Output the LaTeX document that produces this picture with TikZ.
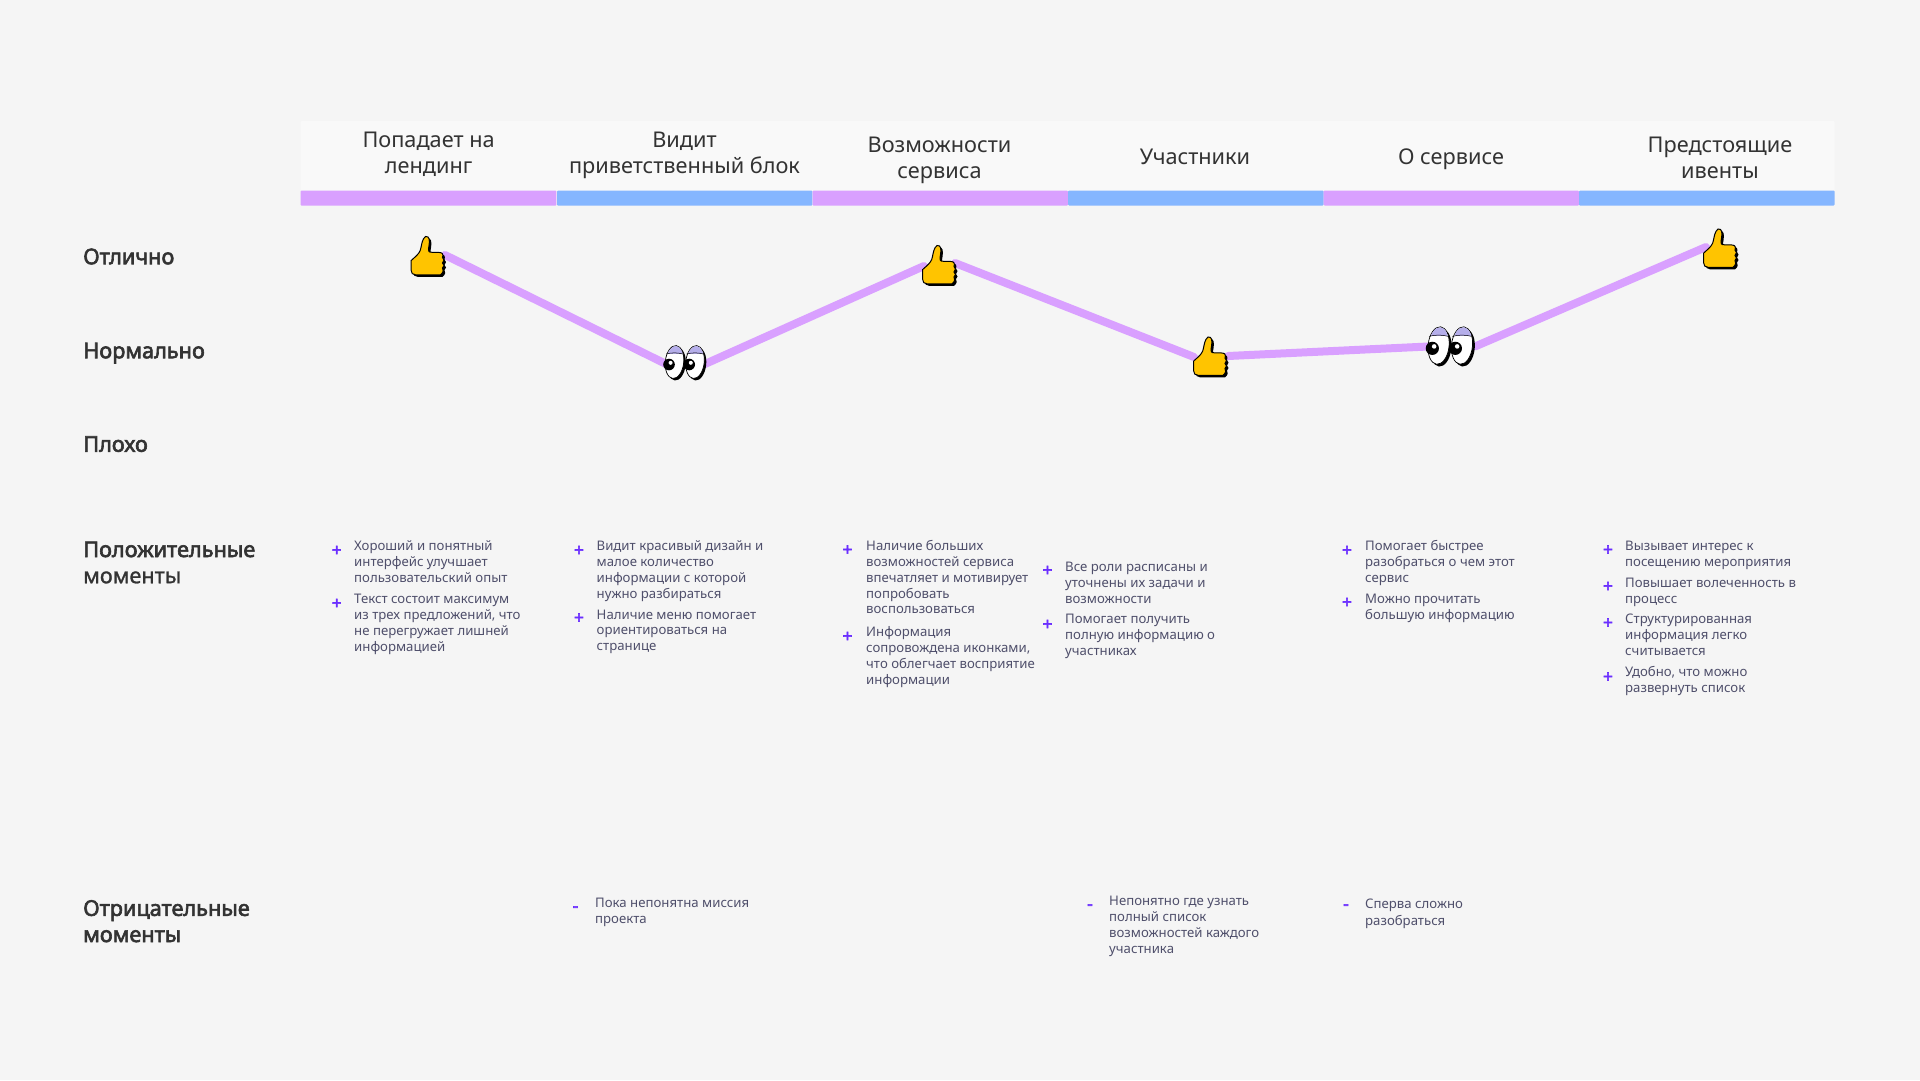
\documentclass[tikz,border=0pt]{standalone}
\usepackage{fontspec}
\setmainfont{Noto Sans}[BoldFont={Noto Sans},BoldFeatures={FakeBold=2.8}]
\newfontfamily\markfont{Noto Sans}[FakeBold=3.5]
\newfontfamily\midfont{Noto Sans}[FakeBold=1.2]
\definecolor{bgc}{HTML}{F5F5F5}
\definecolor{headc}{HTML}{F9F9F9}
\definecolor{pinkc}{HTML}{D9A0FF}
\definecolor{bluec}{HTML}{85B6FF}
\definecolor{darkc}{HTML}{333333}
\definecolor{smallc}{HTML}{4F4F6B}
\definecolor{plusc}{HTML}{6B2EFF}
\definecolor{thumbc}{HTML}{FFC400}
\definecolor{lidc}{HTML}{B5AEEA}
\tikzset{
  segp/.style={fill=pinkc,draw=none,rounded corners=1pt},
  segb/.style={fill=bluec,draw=none,rounded corners=1pt},
  headtext/.style={anchor=north,inner sep=0pt,align=center,text=darkc,yshift=10pt,font=\fontsize{21.7}{25.5}\selectfont},
  rowlabel/.style={anchor=north west,inner sep=0pt,align=left,text=darkc,yshift=11.3pt,font=\fontsize{21.7}{26.2}\selectfont},
  smalltext/.style={anchor=north west,inner sep=0pt,align=left,text=smallc,yshift=7pt,font=\fontsize{13.2}{15.9}\selectfont},
  plusmark/.style={anchor=center,inner sep=0pt,text=plusc,font=\fontsize{17}{17}\markfont},
  curve/.style={draw=pinkc,line width=8pt,line cap=round},
  thumbicon/.pic={
    \def\thumbshape{(-16.3,4) .. controls (-12,0) and (-9,-2) .. (-7.3,-6) .. controls (-6,-10) and (-6,-14) .. (-4,-17.7) .. controls (-3,-20) and (-1,-21) .. (0.5,-19.5) .. controls (2.5,-18) and (2,-13) .. (1,-7.7) .. controls (0.8,-5.5) and (1.5,-4.3) .. (2.7,-4.3) -- (12,-4) .. controls (15,-4) and (16,-2) .. (15,1) .. controls (17,2) and (17,5) .. (15,6.5) .. controls (17,8) and (17,10) .. (15,11.5) .. controls (16.5,13) and (16,16) .. (13,18.3) -- (-12,18.3) .. controls (-15,18.3) and (-16.3,16.5) .. (-16.3,14) -- cycle}
    \fill[black,shift={(2,2)}] \thumbshape;
    \draw[black,line width=1pt,fill=thumbc] \thumbshape;
  },
  eyesicon/.pic={
    \foreach \ex/\px in {-10/-15.5,10.5/4.7}{
      \begin{scope}[shift={(\ex,0)}]
        \fill[black,rotate=-6] (2.2,1.8) ellipse (9.2 and 16.5);
        \draw[black,line width=0.7pt,fill=white,rotate=-6] (0,0) ellipse (9.2 and 16.5);
        \begin{scope}
          \clip[rotate=-6] (0,0) ellipse (8.8 and 16.1);
          \fill[lidc] (-11,-18) rectangle (11,-8.5);
        \end{scope}
        \draw[black,line width=0.5pt] (-8.4,-8) .. controls (-3,-9.5) and (3,-9.5) .. (8.4,-8);
      \end{scope}
      \fill[black] (\px,2.5) circle (5.8);
      \fill[white] (\px+1.6,0.8) circle (2);
    }
  }
}
\begin{document}
\begin{tikzpicture}[x=1pt,y=-1pt]
\useasboundingbox[fill=bgc] (0,0) rectangle (1920,1080);
% header band
\fill[headc,rounded corners=1pt] (300.7,121) rectangle (1834.5,191);
\foreach \i/\a/\b/\s in {1/300.7/556.3/segp,2/557/812.3/segb,3/812.5/1067.8/segp,4/1068.2/1323.5/segb,5/1323.7/1578.8/segp,6/1579/1834.5/segb}
  \path[\s] (\a,190.5) rectangle (\b,205.7);
\node[headtext] (h1) at (428.6,139.6) {\strut Попадает на\\лендинг};
\node[headtext] (h2) at (684.5,139.6) {\strut Видит\\приветственный блок};
\node[headtext] (h3) at (939.5,144.5) {\strut Возможности\\сервиса};
\node[headtext] (h4) at (1195,156.7) {\strut Участники};
\node[headtext] (h5) at (1451,156.7) {\strut О сервисе};
\node[headtext] (h6) at (1720,144.5) {\strut Предстоящие\\ивенты};
% row labels
\node[rowlabel] (r1) at (83,257) {\strut\textbf{Отлично}};
\node[rowlabel] (r2) at (83,351) {\strut\textbf{Нормально}};
\node[rowlabel] (r3) at (83,444.5) {\strut\textbf{Плохо}};
\node[rowlabel] (r4) at (83,549.8) {\strut\textbf{Положительные}\\{\midfont моменты}};
\node[rowlabel] (r5) at (83,908.6) {\strut\textbf{Отрицательные}\\\textbf{моменты}};
% curve
\coordinate (p1) at (445,255);
\coordinate (p2) at (666,364);
\coordinate (p3) at (705,364);
\coordinate (p4) at (924,266);
\coordinate (p5) at (955,263);
\coordinate (p6) at (1194,357);
\coordinate (p7) at (1228,356);
\coordinate (p8) at (1428,346.5);
\coordinate (p9) at (1475,346.5);
\coordinate (p10) at (1706,247);
\draw[curve] (p1) -- (p2);
\draw[curve] (p3) -- (p4);
\draw[curve] (p5) -- (p6);
\draw[curve] (p7) -- (p8);
\draw[curve] (p9) -- (p10);
% icons
\pic (th1) at (427.5,256.5) {thumbicon};
\pic (ey1) at (684.5,362) {eyesicon};
\pic (th3) at (939,265.5) {thumbicon};
\pic (th4) at (1210,357) {thumbicon};
\pic[scale=1.14] (ey2) at (1450,345.5) {eyesicon};
\pic (th6) at (1720,249) {thumbicon};
% positives
\node[plusmark] (m1a) at (336.7,551) {+};
\node[smalltext] (t1a) at (354,546) {\strut Хороший и понятный\\интерфейс улучшает\\пользовательский опыт};
\node[plusmark] (m1b) at (336.7,604) {+};
\node[smalltext] (t1b) at (354,599) {\strut Текст состоит максимум\\из трех предложений, что\\не перегружает лишней\\информацией};
\node[plusmark] (m2a) at (579,551) {+};
\node[smalltext] (t2a) at (596.5,546) {\strut Видит красивый дизайн и\\малое количество\\информации с которой\\нужно разбираться};
\node[plusmark] (m2b) at (579,618.5) {+};
\node[smalltext] (t2b) at (596.5,614.7) {\strut Наличие меню помогает\\ориентироваться на\\странице};
\node[plusmark] (m3a) at (847.5,550.5) {+};
\node[smalltext] (t3a) at (866,546) {\strut Наличие больших\\возможностей сервиса\\впечатляет и мотивирует\\попробовать\\воспользоваться};
\node[plusmark] (m3b) at (847.5,637) {+};
\node[smalltext] (t3b) at (866,632) {\strut Информация\\сопровождена иконками,\\что облегчает восприятие\\информации};
\node[plusmark] (m4a) at (1047.5,571) {+};
\node[smalltext] (t4a) at (1065,567) {\strut Все роли расписаны и\\уточнены их задачи и\\возможности};
\node[plusmark] (m4b) at (1047.5,625) {+};
\node[smalltext] (t4b) at (1065,619.6) {\strut Помогает получить\\полную информацию о\\участниках};
\node[plusmark] (m5a) at (1347,551) {+};
\node[smalltext] (t5a) at (1365,546) {\strut Помогает быстрее\\разобраться о чем этот\\сервис};
\node[plusmark] (m5b) at (1347,603) {+};
\node[smalltext] (t5b) at (1365,599) {\strut Можно прочитать\\большую информацию};
\node[plusmark] (m6a) at (1608,550.5) {+};
\node[smalltext] (t6a) at (1625,546) {\strut Вызывает интерес к\\посещению мероприятия};
\node[plusmark] (m6b) at (1608,587) {+};
\node[smalltext] (t6b) at (1625,583) {\strut Повышает волеченность в\\процесс};
\node[plusmark] (m6c) at (1608,623.5) {+};
\node[smalltext] (t6c) at (1625,619.6) {\strut Структурированная\\информация легко\\считывается};
\node[plusmark] (m6d) at (1608,677.5) {+};
\node[smalltext] (t6d) at (1625,672) {\strut Удобно, что можно\\развернуть список};
% negatives
\node[plusmark] (n2) at (575.5,909) {-};
\node[smalltext] (u2) at (595,903.5) {\strut Пока непонятна миссия\\проекта};
\node[plusmark] (n4) at (1090,907) {-};
\node[smalltext] (u4) at (1109,901) {\strut Непонятно где узнать\\полный список\\возможностей каждого\\участника};
\node[plusmark] (n5) at (1346,907) {-};
\node[smalltext,font=\fontsize{13.2}{17.2}\selectfont] (u5) at (1365,903.2) {\strut Сперва сложно\\разобраться};
\end{tikzpicture}
\end{document}
